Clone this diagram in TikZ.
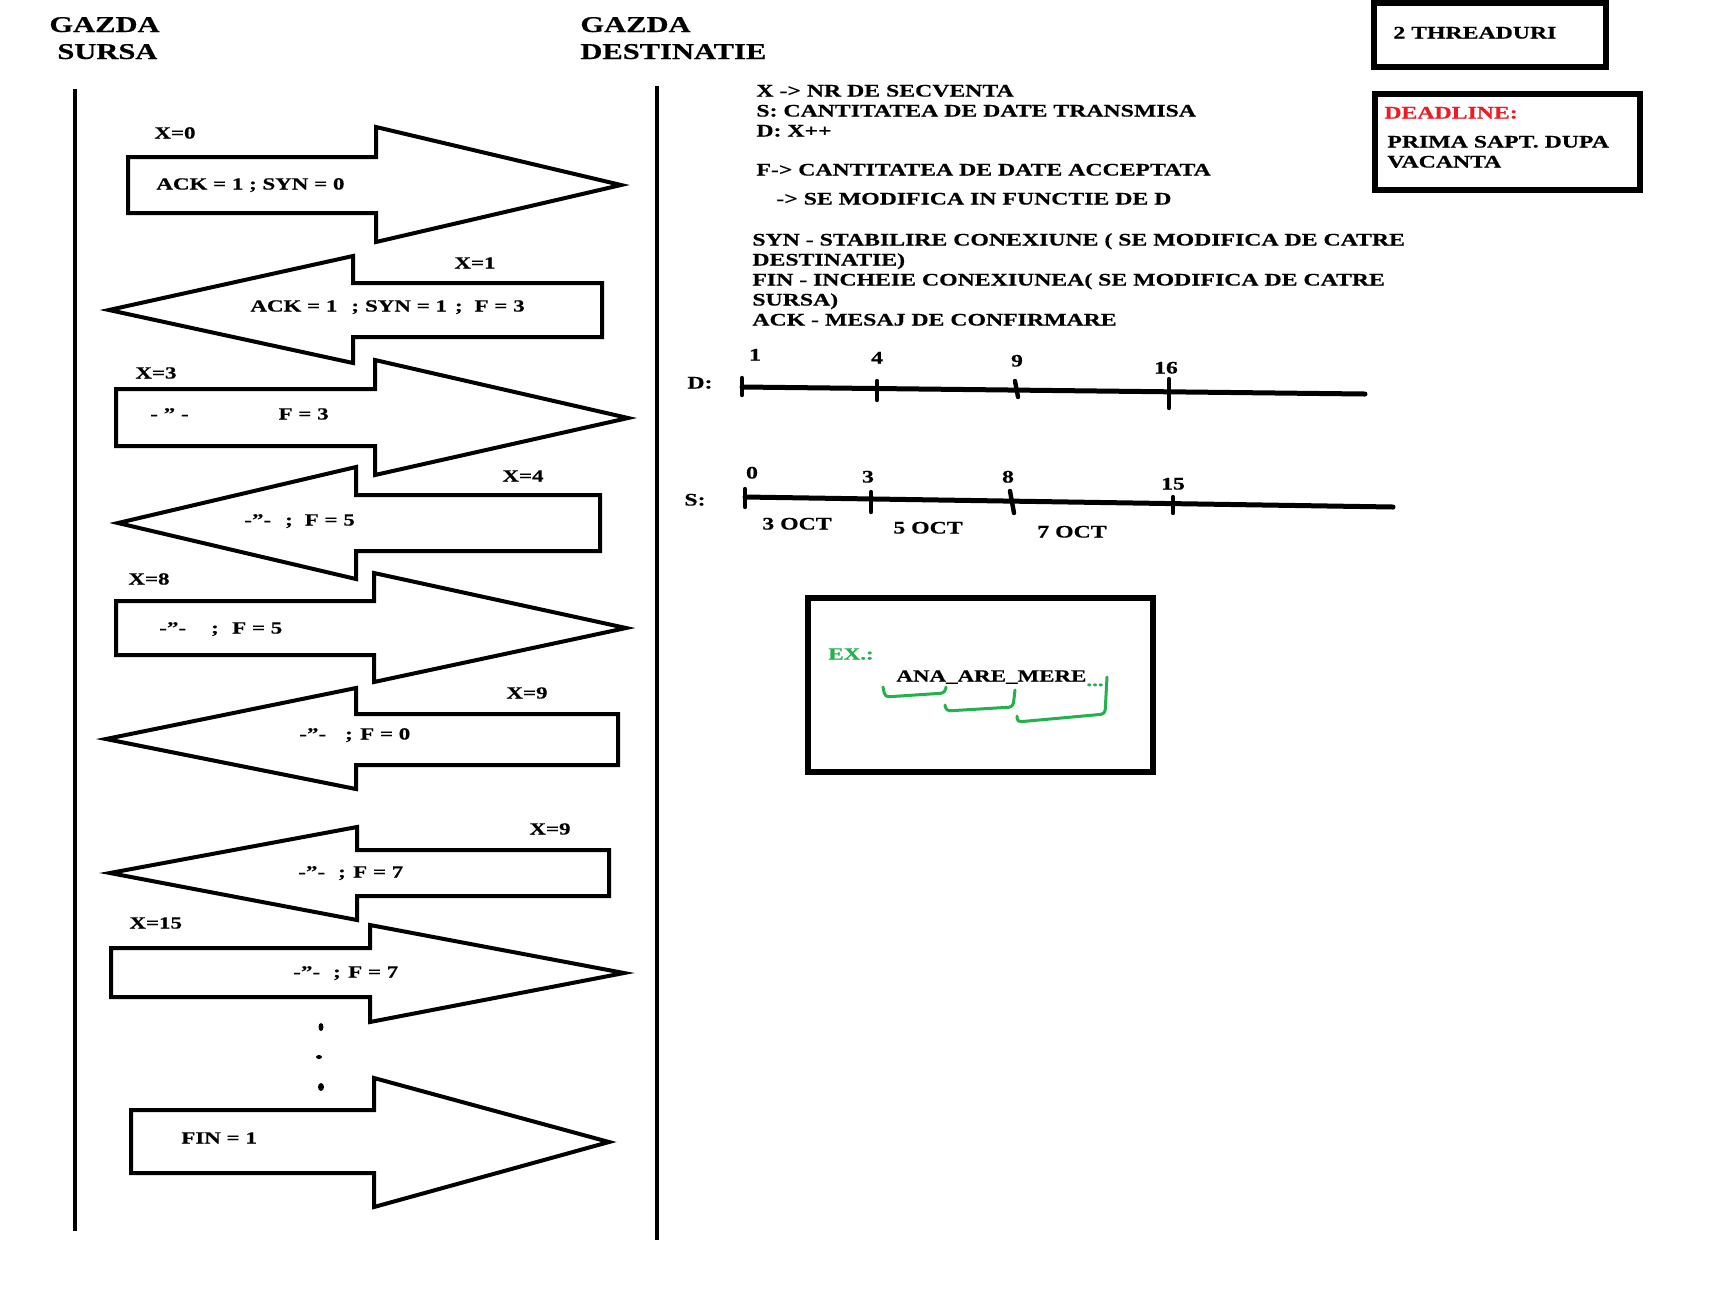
\documentclass[tikz,border=0pt]{standalone}
\usepackage{fontspec}
\setmainfont{Liberation Serif}[FakeStretch=1.35, BoldFeatures={FakeBold=0.5}]
\definecolor{paintred}{RGB}{237,28,36}
\definecolor{paintgreen}{RGB}{34,177,76}
\newcommand\fsmall{\bfseries\fontsize{8.5}{10}\selectfont}
\newcommand\fnote{\bfseries\fontsize{8.8}{10}\selectfont}
\newcommand\fbig{\bfseries\fontsize{11.3}{14}\selectfont}
\newcommand\gapw[1]{\hspace*{#1pt}}
% right-pointing block arrow: xLeft, bodyTop, bodyBottom, xNeck, headTop, headBottom, xTip, yTip
\newcommand\sendblock[8]{%
  \draw[outline] (#1,#2) -- (#4,#2) -- (#4,#5) -- (#7,#8) -- (#4,#6) -- (#4,#3) -- (#1,#3) -- cycle;}
% left-pointing block arrow: xTip, yTip, xNeck, headTop, headBottom, bodyTop, bodyBottom, xRight
\newcommand\replyblock[8]{%
  \draw[outline] (#1,#2) -- (#3,#4) -- (#3,#6) -- (#8,#6) -- (#8,#7) -- (#3,#7) -- (#3,#5) -- cycle;}
\tikzset{
  lbl/.style={font=\fsmall, inner sep=0pt, anchor=base west},
  note/.style={font=\fnote, inner sep=0pt, anchor=base west},
  head/.style={font=\fbig, inner sep=0pt, anchor=base west},
  num/.style={font=\fnote, inner sep=0pt, anchor=base},
  outline/.style={line width=2pt, line join=miter},
  lifeline/.style={line width=2pt},
  axis/.style={line width=2.5pt, line cap=round},
  tickmark/.style={line width=2.2pt, line cap=round},
  frame/.style={line width=2.6pt},
  bracket/.style={paintgreen, line width=1.5pt, line cap=round, line join=round, rounded corners=2pt},
}
\begin{document}
\begin{tikzpicture}[x=0.5pt, y=-0.5pt]
\useasboundingbox[fill=white] (0,0) rectangle (1720,1298);

% headers
\node[head] (hs1) at (49,32) {GAZDA};
\node[head] (hs2) at (57,59) {SURSA};
\node[head] (hd1) at (580,32) {GAZDA};
\node[head] (hd2) at (580,59) {DESTINATIE};

% lifelines
\draw[lifeline] (75,89) -- (75,1231);
\draw[lifeline] (657,86) -- (657,1240);

% segment exchange
\sendblock{128}{157}{213}{376}{127}{242}{621}{185}
\node[lbl] (x0) at (154,138.5) {X=0};
\node[lbl] (m1) at (156,189.5) {ACK = 1 ; SYN = 0};

\replyblock{109}{310}{353}{256}{363}{283}{337}{602}
\node[lbl] (x1) at (454,268.5) {X=1};
\node[lbl] (m2) at (250,311.5) {ACK = 1\gapw{7};\gapw{3}SYN = 1\gapw{4};\gapw{6}F = 3};

\sendblock{116}{389}{446}{375}{360}{475}{628}{418}
\node[lbl] (x3) at (135,378.5) {X=3};
\node[lbl] (m3) at (150,419.5) {- ” -\gapw{45}F = 3};

\replyblock{118}{523}{356}{467}{579}{495}{551}{600}
\node[lbl] (x4) at (502,481.5) {X=4};
\node[lbl] (m4) at (244,525.5) {-”-\gapw{7};\gapw{6}F = 5};

\sendblock{116}{601}{655}{374}{573}{682}{626}{628}
\node[lbl] (x8) at (128,584.5) {X=8};
\node[lbl] (m5) at (159,633.5) {-”-\gapw{12.5};\gapw{6.7}F = 5};

\replyblock{106}{739}{356}{688}{789}{714}{765}{618}
\node[lbl] (x9a) at (506,698.5) {X=9};
\node[lbl] (m6) at (299,739.5) {-”-\gapw{9.5};\gapw{3.7}F = 0};

\replyblock{110}{873}{357}{827}{920}{850}{896}{609}
\node[lbl] (x9b) at (529,834.5) {X=9};
\node[lbl] (m7) at (298,877.5) {-”-\gapw{6.5};\gapw{3.7}F = 7};

\sendblock{111}{948}{997}{370}{925}{1022}{624}{973}
\node[lbl] (x15) at (129,928.5) {X=15};
\node[lbl] (m8) at (293,977.5) {-”-\gapw{6.5};\gapw{3.7}F = 7};

% continuation dots
\fill (321,1027) ellipse [x radius=2.5, y radius=4];
\fill (319,1057) ellipse [x radius=3, y radius=2];
\fill (321,1087) ellipse [x radius=3, y radius=4];

\sendblock{131}{1110}{1173}{374}{1078}{1207}{609}{1142}
\node[lbl] (m9) at (181,1143.5) {FIN = 1};

% legend
\node[note] (l1) at (756,96.5) {X -> NR DE SECVENTA};
\node[note] (l2) at (756,116.5) {S: CANTITATEA DE DATE TRANSMISA};
\node[note] (l3) at (756,136.5) {D: X++};
\node[note] (l4) at (756,175.5) {F-> CANTITATEA DE DATE ACCEPTATA};
\node[note] (l5) at (776,204.5) {-> SE MODIFICA IN FUNCTIE DE D};
\node[note] (l6) at (752,245.5) {SYN - STABILIRE CONEXIUNE ( SE MODIFICA DE CATRE};
\node[note] (l7) at (752,265.5) {DESTINATIE)};
\node[note] (l8) at (752,285.5) {FIN - INCHEIE CONEXIUNEA( SE MODIFICA DE CATRE};
\node[note] (l9) at (752,305.5) {SURSA)};
\node[note] (l10) at (752,325.5) {ACK - MESAJ DE CONFIRMARE};

% D axis
\node[note] (dlab) at (687,388.5) {D:};
\draw[axis] (742,387) -- (1365,394);
\draw[tickmark] (742,378) -- (742,395);
\draw[tickmark] (877,381) -- (877,400);
\draw[tickmark] (1015,381) -- (1018,397);
\draw[tickmark] (1169,379) -- (1169,408);
\node[num] (d1) at (755,360.5) {1};
\node[num] (d4) at (877,363.5) {4};
\node[num] (d9) at (1017,366.5) {9};
\node[num] (d16) at (1166,373.5) {16};

% S axis
\node[note] (slab) at (684,505.5) {S:};
\draw[axis] (745,497) -- (1393,507);
\draw[tickmark] (745,489) -- (745,507);
\draw[tickmark] (871,492) -- (871,512);
\draw[tickmark] (1010,491) -- (1014,513);
\draw[tickmark] (1173,497) -- (1173,513);
\node[num] (s0) at (752,478.5) {0};
\node[num] (s3) at (868,482.5) {3};
\node[num] (s8) at (1008,482.5) {8};
\node[num] (s15) at (1173,489.5) {15};
\node[num] (o3) at (797,529.5) {3 OCT};
\node[num] (o5) at (928,533.5) {5 OCT};
\node[num] (o7) at (1072,537.5) {7 OCT};

% example box
\draw[frame] (808,598) rectangle (1153,772);
\node[lbl, text=paintgreen] (ex) at (828,659.5) {EX.:};
\node[lbl] (ana) at (896,681.5) {ANA\_ARE\_MERE};
\node[lbl, text=paintgreen] (more) at (1086,686) {...};
\draw[bracket] (883,687) -- (885,697) -- (945,693) -- (946,687);
\draw[bracket] (945,705) -- (946,711) -- (1013,707) -- (1015,690);
\draw[bracket] (1017,716) -- (1017,722) -- (1105,714) -- (1107,677);

% notes top right
\draw[frame] (1374,3) rectangle (1606,67);
\node[note] (thr) at (1393,38.5) {2 THREADURI};
\draw[frame] (1375,94) rectangle (1640,190);
\node[note, text=paintred] (dl) at (1384,118.5) {DEADLINE:};
\node[note] (dl1) at (1387,147.5) {PRIMA SAPT. DUPA};
\node[note] (dl2) at (1387,167.5) {VACANTA};
\end{tikzpicture}
\end{document}
